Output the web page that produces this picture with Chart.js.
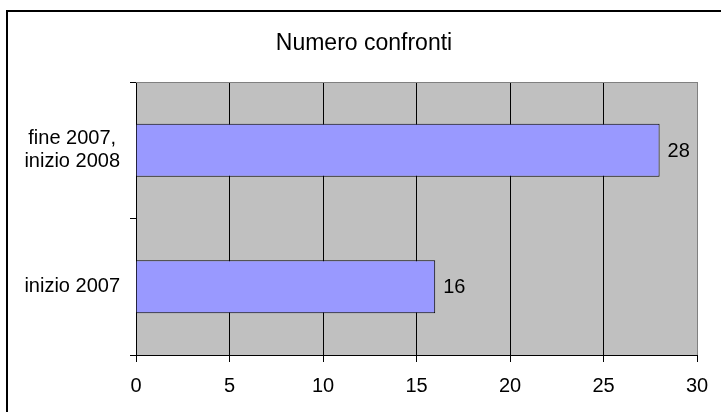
<!DOCTYPE html>
<html>
<head>
<meta charset="utf-8">
<script src="https://cdn.jsdelivr.net/npm/chart.js@4"></script>
<style>
  html, body { margin: 0; padding: 0; background: #fff; }
  #wrap { width: 721px; height: 412px; }
</style>
</head>
<body>
<div id="wrap"><canvas id="chart" width="721" height="412"></canvas></div>
<script>
// chart data
const categories = [["fine 2007,", "inizio 2008"], "inizio 2007"];
const confronti = [28, 16];
const xTicks = [0, 5, 10, 15, 20, 25, 30];
const titolo = "Numero confronti";

const FONT = "'Liberation Sans', Arial, sans-serif";

// gray plot area, frame lines, title and value labels (Excel look)
const excelLook = {
  id: "excelLook",
  beforeDraw(chart) {
    const { ctx, chartArea: a } = chart;
    ctx.save();
    ctx.fillStyle = "#fff";
    ctx.fillRect(0, 0, chart.width, chart.height);
    ctx.fillStyle = "#c0c0c0";
    ctx.fillRect(a.left, a.top, a.right - a.left, a.bottom - a.top);
    ctx.restore();
  },
  afterDraw(chart) {
    const { ctx, chartArea: a } = chart;
    ctx.save();
    // top edge of plot area
    ctx.strokeStyle = "#808080";
    ctx.lineWidth = 1;
    ctx.beginPath();
    ctx.moveTo(a.left, a.top + 0.5);
    ctx.lineTo(a.right + 1, a.top + 0.5);
    ctx.stroke();
    // outer chart frame (left and top only visible)
    ctx.strokeStyle = "#000";
    ctx.lineWidth = 2;
    ctx.beginPath();
    ctx.moveTo(7, chart.height);
    ctx.lineTo(7, 11);
    ctx.lineTo(chart.width, 11);
    ctx.stroke();
    // title, centred on the whole chart box like Excel
    ctx.fillStyle = "#000";
    ctx.font = "23px " + FONT;
    ctx.textAlign = "center";
    ctx.textBaseline = "middle";
    ctx.fillText(titolo, 364, 44);
    // value labels
    const meta = chart.getDatasetMeta(0);
    ctx.font = "20px " + FONT;
    ctx.textAlign = "left";
    meta.data.forEach((bar, i) => {
      ctx.fillText(String(confronti[i]), bar.x + 8, bar.y + 1);
    });
    ctx.restore();
  }
};

new Chart(document.getElementById("chart"), {
  type: "bar",
  data: {
    labels: categories,
    datasets: [{
      data: confronti,
      backgroundColor: "#9999ff",
      borderColor: "#000",
      borderWidth: 1,
      barPercentage: 0.39,
      categoryPercentage: 1
    }]
  },
  options: {
    indexAxis: "y",
    responsive: false,
    animation: false,
    layout: { padding: { left: 0, right: 24, top: 82, bottom: 0 } },
    plugins: {
      legend: { display: false },
      tooltip: { enabled: false },
      title: { display: false }
    },
    scales: {
      x: {
        min: 0,
        max: 30,
        afterBuildTicks(scale) {
          scale.ticks = xTicks.map(v => ({ value: v }));
        },
        afterFit(scale) { scale.height = 57; },
        grid: {
          color: ctx => (ctx.tick && ctx.tick.value === 30 ? "#808080" : "#000"),
          lineWidth: 1,
          tickLength: 7,
          tickColor: "#000"
        },
        border: { color: "#000", width: 1 },
        ticks: {
          color: "#000",
          padding: 12,
          maxRotation: 0,
          font: { family: FONT, size: 20 }
        }
      },
      y: {
        afterFit(scale) { scale.width = 136; },
        grid: {
          drawOnChartArea: false,
          offset: true,
          tickLength: 6,
          color: "#000"
        },
        border: { color: "#000", width: 1 },
        ticks: {
          color: "#000",
          crossAlign: "center",
          padding: 10,
          font: { family: FONT, size: 20, lineHeight: 1.15 }
        }
      }
    }
  },
  plugins: [excelLook]
});
</script>
</body>
</html>
